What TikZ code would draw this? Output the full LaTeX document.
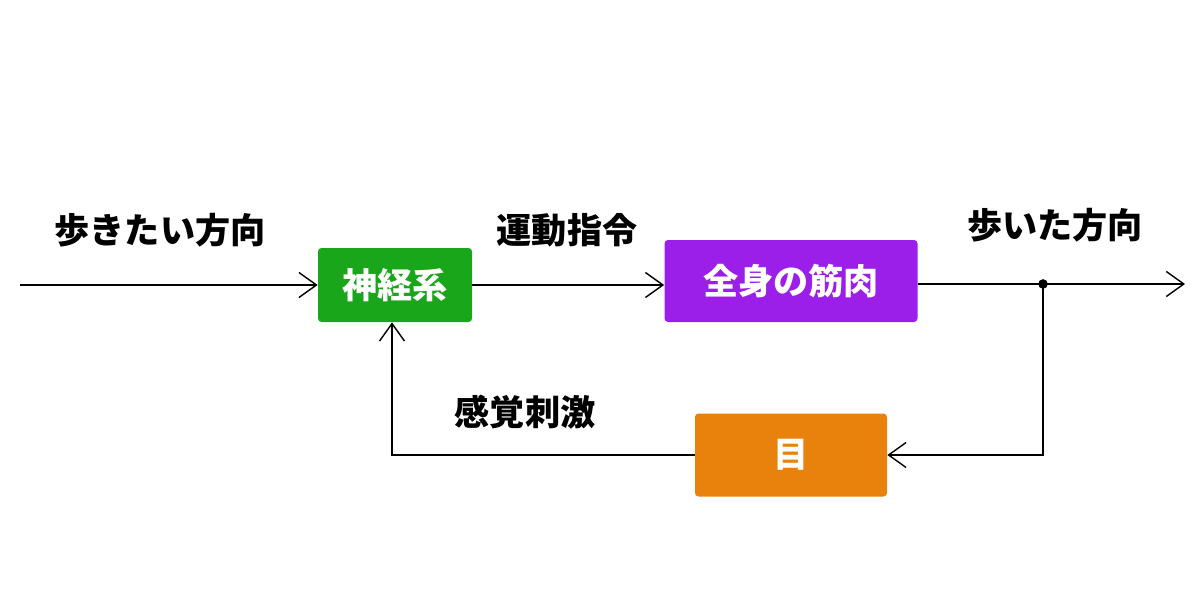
\documentclass[tikz,border=0pt]{standalone}
\usepackage{fontspec}
\newfontfamily\cjk{Noto Sans CJK JP}
\usetikzlibrary{arrows.meta}
\definecolor{boxgreen}{HTML}{1AA61A}
\definecolor{boxpurple}{HTML}{9B1FE8}
\definecolor{boxorange}{HTML}{E8820C}
\tikzset{
  block/.style={rounded corners=2pt, text=white, font=\cjk\bfseries\fontsize{20}{24}\selectfont, inner sep=0pt},
  lbl/.style={font=\cjk\bfseries\fontsize{20}{24}\selectfont},
  flow/.style={thick, -{Straight Barb[length=3.5mm,width=5mm]}}
}
\begin{document}
\begin{tikzpicture}
  \useasboundingbox (0,0) rectangle (24,12);
  % Blocks
  \node[block, fill=boxgreen, minimum width=3.08cm, minimum height=1.48cm] (nerve) at (7.9,6.3) {神経系};
  \node[block, fill=boxpurple, minimum width=5.06cm, minimum height=1.64cm] (muscle) at (15.82,6.38) {全身の筋肉};
  \node[block, fill=boxorange, minimum width=3.84cm, minimum height=1.66cm] (eye) at (15.82,2.9) {目};

  % Points for the connectors
  \coordinate (in) at (0.4,6.3);
  \coordinate (out) at (23.7,6.32);
  \coordinate (corner) at (7.84,2.9);
  \filldraw (20.86,6.32) coordinate (split) circle (2.5pt);

  % Connectors
  \draw[flow] (in) -- (nerve.west);
  \draw[flow] (nerve.east) -- (muscle.west |- nerve.east);
  \draw[flow] (muscle.east |- split) -- (out);
  \draw[flow] (split) |- (eye.east);
  \draw[flow] (eye.west) -- (corner) -- (corner |- nerve.south);

  % Labels
  \node[lbl] (goal) at (3.2,7.4) {歩きたい方向};
  \node[lbl] (cmd) at (11.34,7.4) {運動指令};
  \node[lbl] (walked) at (21.1,7.5) {歩いた方向};
  \node[lbl] (sense) at (10.5,3.76) {感覚刺激};
\end{tikzpicture}
\end{document}
